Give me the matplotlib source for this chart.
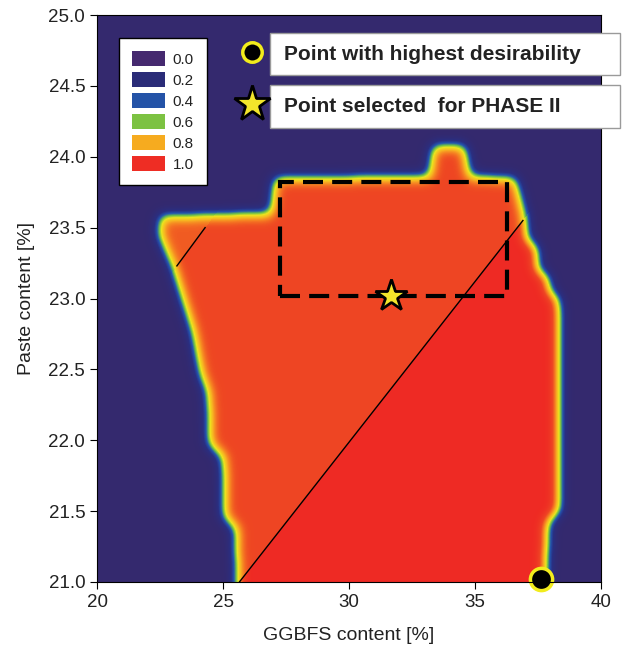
import numpy as np
import matplotlib
matplotlib.use("Agg")
import matplotlib.pyplot as plt
from matplotlib.colors import LinearSegmentedColormap
from matplotlib.path import Path
from matplotlib.patches import Rectangle, Patch
from matplotlib.lines import Line2D

plt.rcParams['font.family'] = ['Liberation Sans', 'DejaVu Sans']

# outline of the desirable region (GGBFS %, paste %)
region_x = [25.55, 25.55, 25.5, 25.05, 25.0, 24.45, 24.4, 24.1, 23.8, 23.4,
            23.0, 22.45, 22.5, 26.9, 27.05, 33.2, 33.35, 34.6, 34.8, 36.6,
            37.0, 37.05, 37.45, 37.5, 37.9, 37.95, 38.3, 38.35, 38.35, 37.9,
            37.8, 37.8]
region_y = [20.5, 21.0, 21.38, 21.45, 21.88, 21.97, 22.33, 22.47, 22.76, 22.99,
            23.22, 23.45, 23.58, 23.6, 23.85, 23.86, 24.08, 24.08, 23.86, 23.85,
            23.58, 23.42, 23.36, 23.2, 23.15, 23.05, 23.0, 22.9, 21.5, 21.42,
            21.0, 20.5]

# dividing lines inside the region
diag_x = [25.65, 36.9]
diag_y = [21.0, 23.55]
short_x = [23.17, 24.29]
short_y = [23.23, 23.50]

# desirability levels of the zones
level_red = 1.0
level_orange = 0.86
level_wedge = 0.82

# dashed box and marked points
box_x = [27.25, 36.25]
box_y = [23.02, 23.82]
best_pt = (37.62, 21.02)
phase2_pt = (31.65, 23.02)

legend_vals = ['0.0', '0.2', '0.4', '0.6', '0.8', '1.0']
legend_cols = ['#45296f', '#2a2c78', '#2453a7', '#7cc242', '#f6ab1f', '#ee2d24']

xticks = [20, 25, 30, 35, 40]
yticks = [21.0, 21.5, 22.0, 22.5, 23.0, 23.5, 24.0, 24.5, 25.0]

cmap = LinearSegmentedColormap.from_list('desir', [
    (0.00, '#34296e'), (0.14, '#2a2f82'), (0.26, '#2356b0'), (0.38, '#6cbf4a'),
    (0.50, '#ece51e'), (0.64, '#f7b422'), (0.76, '#f57a22'), (0.86, '#ee4623'),
    (1.00, '#ee2a24')])

# raster of the region, softened at the edges
nx, ny = 504, 567
gx = np.linspace(20, 40, nx)
gy = np.linspace(21, 25, ny)
X, Y = np.meshgrid(gx, gy)
pts = np.column_stack([X.ravel(), Y.ravel()])
inside = Path(np.column_stack([region_x, region_y])).contains_points(pts)
inside = inside.reshape(ny, nx).astype(float)

sig = 6.0
r = np.arange(-20, 21)
k = np.exp(-0.5 * (r / sig) ** 2)
k /= k.sum()
def smooth(a, axis):
    return np.apply_along_axis(
        lambda v: np.convolve(np.pad(v, 20, mode='edge'), k, mode='valid'), axis, a)
soft = smooth(smooth(inside, 1), 0)

side = (diag_x[1] - diag_x[0]) * (Y - diag_y[0]) - (diag_y[1] - diag_y[0]) * (X - diag_x[0])
side2 = (short_x[1] - short_x[0]) * (Y - short_y[0]) - (short_y[1] - short_y[0]) * (X - short_x[0])
level = np.where(side < 0, level_red, np.where((side2 > 0) & (Y > 23.1), level_wedge, level_orange))
field = soft * level

fig = plt.figure(figsize=(6.32, 6.62), dpi=100)
ax = fig.add_axes([97 / 632, 1 - 582 / 662, 504 / 632, 567 / 662])
ax.imshow(field, extent=[20, 40, 21, 25], origin='lower', aspect='auto',
          cmap=cmap, vmin=0, vmax=1, interpolation='bilinear')

ax.plot(diag_x, diag_y, color='black', lw=1.0)
ax.plot(short_x, short_y, color='black', lw=1.0)
ax.add_patch(Rectangle((box_x[0], box_y[0]), box_x[1] - box_x[0], box_y[1] - box_y[0],
                       fill=False, ec='black', lw=3.0, ls=(0, (4.8, 2.2))))
ax.plot(*phase2_pt, marker='*', ms=24, mfc='#f3e62b', mec='black', mew=2, clip_on=False)
ax.plot(*best_pt, marker='o', ms=16, mfc='black', mec='#f2ec1c', mew=2.5, clip_on=False)

ax.set_xlim(20, 40)
ax.set_ylim(21, 25)
ax.set_xticks(xticks)
ax.set_xticklabels([str(t) for t in xticks])
ax.set_yticks(yticks)
ax.set_yticklabels(['%.1f' % t for t in yticks])
ax.tick_params(direction='out', length=5, labelsize=13.5, labelcolor='#222222')
ax.set_xlabel('GGBFS content [%]', fontsize=14, color='#222222', labelpad=12)
ax.set_ylabel('Paste content [%]', fontsize=14, color='#222222', labelpad=10)

handles = [Patch(fc=c, ec='none') for c in legend_cols]
leg = ax.legend(handles, legend_vals, loc='upper left', bbox_to_anchor=(22 / 504, 1 - 23 / 567),
                fontsize=11, handlelength=2.15, handleheight=1.1, labelspacing=0.36,
                handletextpad=0.5, borderpad=0.85, borderaxespad=0, fancybox=False,
                framealpha=1, edgecolor='black')
leg.get_frame().set_linewidth(1.0)
for t in leg.get_texts():
    t.set_color('#222222')

# key boxes at the top right
def fx(px):
    return px / 632
def fy(py):
    return 1 - py / 662

for top, bot, txt in [(33, 75, 'Point with highest desirability'),
                      (85, 128, 'Point selected  for PHASE II')]:
    fig.add_artist(Rectangle((fx(270), fy(bot)), fx(620) - fx(270), fy(top) - fy(bot),
                             transform=fig.transFigure, fc='white', ec='#9a9a9a', lw=1))
    fig.text(fx(284), fy((top + bot) / 2), txt, fontsize=15, fontweight='bold',
             color='#222222', va='center', ha='left')

fig.add_artist(Line2D([fx(252)], [fy(52)], marker='o', ms=14, mfc='black', mec='#f2ec1c',
                      mew=2.5, transform=fig.transFigure))
fig.add_artist(Line2D([fx(252)], [fy(104)], marker='*', ms=27, mfc='#f3e62b', mec='black',
                      mew=2, transform=fig.transFigure))

fig.savefig('out.png', dpi=100)
